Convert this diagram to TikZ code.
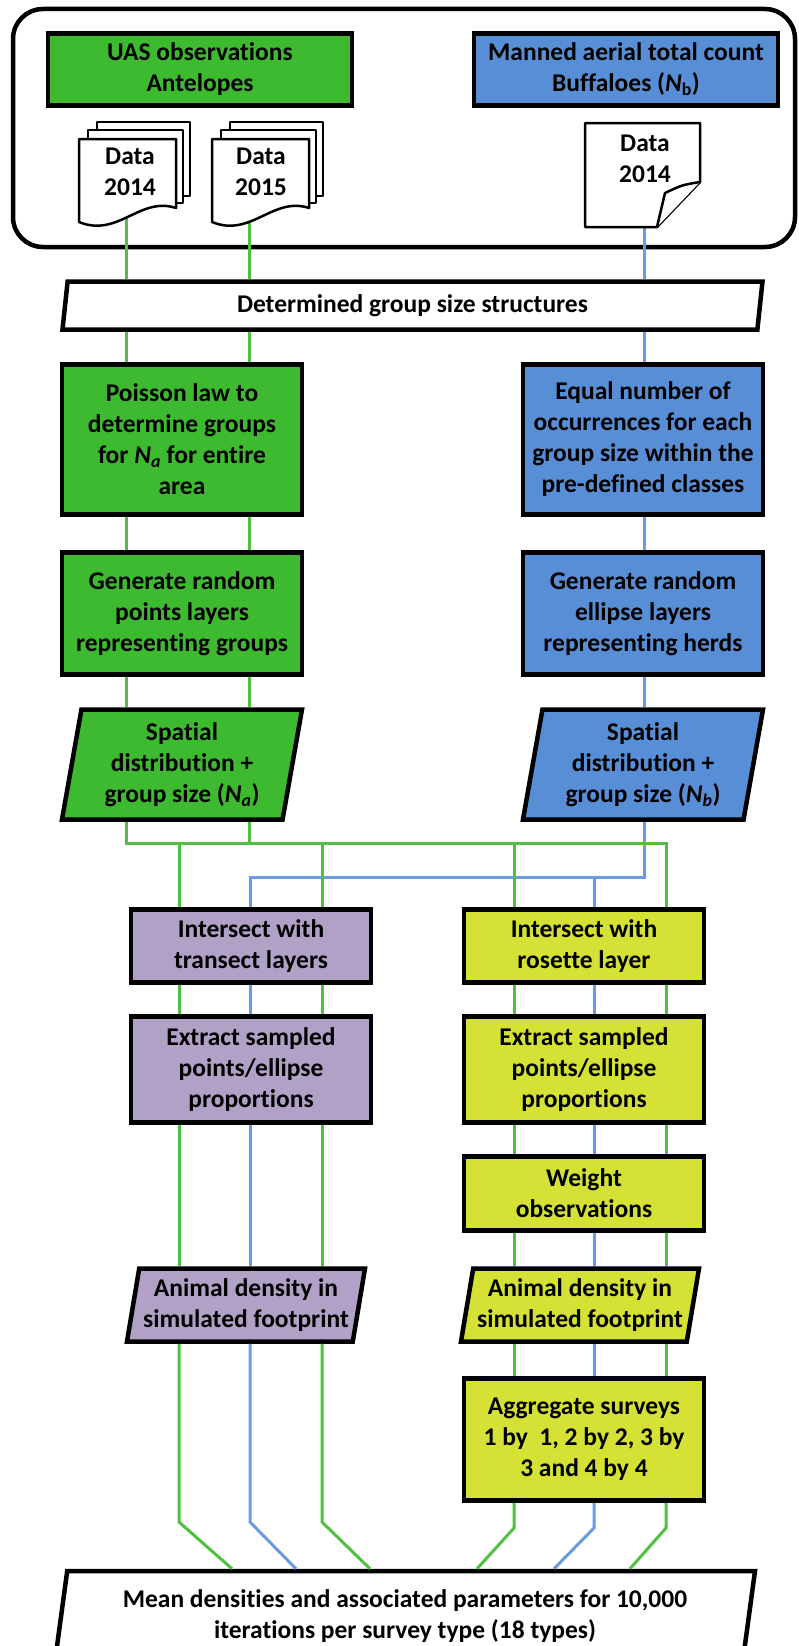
\documentclass[tikz,border=0pt]{standalone}
\usepackage{fontspec}
\setmainfont{Carlito}[Ligatures=NoCommon]
\usetikzlibrary{shapes}
\definecolor{uasgreen}{RGB}{61,186,47}
\definecolor{mannedblue}{RGB}{88,142,213}
\definecolor{transpurple}{RGB}{177,161,199}
\definecolor{roseyellow}{RGB}{213,226,53}
\definecolor{linegreen}{RGB}{80,192,64}
\definecolor{lineblue}{RGB}{106,155,222}

\begin{document}
\begin{tikzpicture}[x=1pt,y=-1pt,font=\fontsize{25.5}{31}\selectfont\bfseries]
\tikzset{box/.style = {draw, line width=4.5pt, align=center, minimum width=240pt, inner sep=0pt}}
\tikzset{para/.style = {box, shape=trapezium, trapezium left angle=77, trapezium right angle=103, trapezium stretches body}}
\tikzset{sheet/.style = {draw, fill=white, line width=2.5pt, line join=round}}
\tikzset{doctext/.style = {align=center, inner sep=0pt}}
\tikzset{gline/.style = {draw=linegreen, line width=3pt}}
\tikzset{bline/.style = {draw=lineblue, line width=3pt}}
\useasboundingbox (0,0) rectangle (798,1646);
\draw[line width=4.5pt, rounded corners=30pt] (13,9) rectangle (795,247);
% boxes
\node[box, fill=uasgreen, minimum width=304pt, minimum height=72pt] (uas) at (200,69.5) {UAS observations\\Antelopes};
\node[box, fill=mannedblue, minimum width=304pt, minimum height=72pt] (manned) at (626,69.5) {Manned aerial total count\\Buffaloes (\textit{N}\textsubscript{b})};
\node[para, fill=white, minimum width=700pt, minimum height=48pt] (determ) at (412.5,305.5) {Determined group size structures};
\node[box, fill=uasgreen, minimum height=150pt] (poisson) at (182,439.5) {Poisson law to\\determine groups\\for \textit{N\textsubscript{a}} for entire\\area};
\node[box, fill=mannedblue, minimum height=150pt] (equal) at (643,439.5) {Equal number of\\occurrences for each\\group size within the\\pre-defined classes};
\node[box, fill=uasgreen, minimum height=122pt] (genA) at (182,613.5) {Generate random\\points layers\\representing groups};
\node[box, fill=mannedblue, minimum height=122pt] (genB) at (643,613.5) {Generate random\\ellipse layers\\representing herds};
\node[para, fill=uasgreen, minimum width=240pt, minimum height=110pt] (spatA) at (182,764.5) {Spatial\\distribution +\\group size (\textit{N\textsubscript{a}})};
\node[para, fill=mannedblue, minimum width=240pt, minimum height=110pt] (spatB) at (643,764.5) {Spatial\\distribution +\\group size (\textit{N\textsubscript{b}})};
\node[box, fill=transpurple, minimum height=73pt] (interA) at (251,946) {Intersect with\\transect layers};
\node[box, fill=roseyellow, minimum height=73pt] (interB) at (584,946) {Intersect with\\rosette layer};
\node[box, fill=transpurple, minimum height=106pt] (extA) at (251,1069.5) {Extract sampled\\points/ellipse\\proportions};
\node[box, fill=roseyellow, minimum height=106pt] (extB) at (584,1069.5) {Extract sampled\\points/ellipse\\proportions};
\node[box, fill=roseyellow, minimum height=74pt] (weight) at (584,1193.5) {Weight\\observations};
\node[para, fill=transpurple, minimum width=238pt, minimum height=73pt] (densA) at (246,1305) {Animal density in\\simulated footprint};
\node[para, fill=roseyellow, minimum width=238pt, minimum height=73pt] (densB) at (580,1305) {Animal density in\\simulated footprint};
\node[box, fill=roseyellow, minimum height=122pt] (aggr) at (584,1439.5) {Aggregate surveys\\1 by\ \ 1, 2 by 2, 3 by\\3 and 4 by 4};
\node[para, fill=white, minimum width=700pt, minimum height=90pt] (mean) at (405,1616) {Mean densities and associated parameters for 10,000\\iterations per survey type (18 types)};
% columns and bends
\coordinate (gL) at (126,0);
\coordinate (gR) at (249,0);
\coordinate (bC) at (644,0);
\coordinate (pL) at (179,0);
\coordinate (pM) at (250,0);
\coordinate (pR) at (322,0);
\coordinate (yL) at (514,0);
\coordinate (yM) at (594,0);
\coordinate (yR) at (666,0);
\coordinate (gbus) at (0,843);
\coordinate (bbus) at (0,877);
\coordinate (kA) at (0,1522);
\coordinate (kB) at (0,1528);
\coordinate (m1) at (232,0);
\coordinate (m2) at (296,0);
\coordinate (m3) at (370,0);
\coordinate (m4) at (477,0);
\coordinate (m5) at (554,0);
\coordinate (m6) at (630,0);
\coordinate (d1) at (126,214);
\coordinate (d2) at (249,216);
\coordinate (d3) at (644,222);
% connectors
\draw[gline] (d1) -- (determ.north -| d1);
\draw[gline] (d2) -- (determ.north -| d2);
\draw[bline] (d3) -- (determ.north -| d3);
\draw[gline] (determ.south -| gL) -- (poisson.north -| gL);
\draw[gline] (determ.south -| gR) -- (poisson.north -| gR);
\draw[bline] (determ.south -| bC) -- (equal.north -| bC);
\draw[gline] (poisson.south -| gL) -- (genA.north -| gL);
\draw[gline] (poisson.south -| gR) -- (genA.north -| gR);
\draw[bline] (equal.south -| bC) -- (genB.north -| bC);
\draw[gline] (genA.south -| gL) -- (spatA.north -| gL);
\draw[gline] (genA.south -| gR) -- (spatA.north -| gR);
\draw[bline] (genB.south -| bC) -- (spatB.north -| bC);
\draw[bline] (spatB.south -| bC) |- (bbus -| pM) -- (interA.north -| pM);
\draw[bline] (bbus -| yM) -- (interB.north -| yM);
\draw[gline] (spatA.south -| gL) |- (gbus -| yR) -- (interB.north -| yR);
\draw[gline] (spatA.south -| gR) -- (gbus -| gR);
\draw[gline] (gbus -| pL) -- (interA.north -| pL);
\draw[gline] (gbus -| pR) -- (interA.north -| pR);
\draw[gline] (gbus -| yL) -- (interB.north -| yL);
\draw[gline] (interA.south -| pL) -- (extA.north -| pL);
\draw[bline] (interA.south -| pM) -- (extA.north -| pM);
\draw[gline] (interA.south -| pR) -- (extA.north -| pR);
\draw[gline] (extA.south -| pL) -- (densA.north -| pL);
\draw[bline] (extA.south -| pM) -- (densA.north -| pM);
\draw[gline] (extA.south -| pR) -- (densA.north -| pR);
\draw[gline] (densA.south -| pL) -- (kA -| pL) -- (mean.north -| m1);
\draw[bline] (densA.south -| pM) -- (kA -| pM) -- (mean.north -| m2);
\draw[gline] (densA.south -| pR) -- (kA -| pR) -- (mean.north -| m3);
\draw[gline] (interB.south -| yL) -- (extB.north -| yL);
\draw[bline] (interB.south -| yM) -- (extB.north -| yM);
\draw[gline] (interB.south -| yR) -- (extB.north -| yR);
\draw[gline] (extB.south -| yL) -- (weight.north -| yL);
\draw[bline] (extB.south -| yM) -- (weight.north -| yM);
\draw[gline] (extB.south -| yR) -- (weight.north -| yR);
\draw[gline] (weight.south -| yL) -- (densB.north -| yL);
\draw[bline] (weight.south -| yM) -- (densB.north -| yM);
\draw[gline] (weight.south -| yR) -- (densB.north -| yR);
\draw[gline] (densB.south -| yL) -- (aggr.north -| yL);
\draw[bline] (densB.south -| yM) -- (aggr.north -| yM);
\draw[gline] (densB.south -| yR) -- (aggr.north -| yR);
\draw[gline] (aggr.south -| yL) -- (kB -| yL) -- (mean.north -| m4);
\draw[bline] (aggr.south -| yM) -- (kB -| yM) -- (mean.north -| m5);
\draw[gline] (aggr.south -| yR) -- (kB -| yR) -- (mean.north -| m6);
% data sheets
\draw[sheet] (97,122) rectangle (190,196);
\draw[sheet] (88,130) rectangle (183,203);
\draw[sheet] (79,139) -- (176,139) -- (176,208) .. controls (140,196) and (118,238) .. (79,222) -- cycle;
\draw[sheet] (230,122) rectangle (323,196);
\draw[sheet] (221,130) rectangle (316,203);
\draw[sheet] (212,139) -- (309,139) -- (309,208) .. controls (273,196) and (251,238) .. (212,222) -- cycle;
\draw[sheet] (585,123) -- (700,123) -- (700,182) -- (657,227) -- (585,227) -- cycle;
\draw[sheet] (700,182) .. controls (682,185) .. (665,193) -- (657,227);
\node[doctext] (data1) at (130,172) {Data\\2014};
\node[doctext] (data2) at (261,172) {Data\\2015};
\node[doctext] (data3) at (645,159) {Data\\2014};
\end{tikzpicture}
\end{document}
